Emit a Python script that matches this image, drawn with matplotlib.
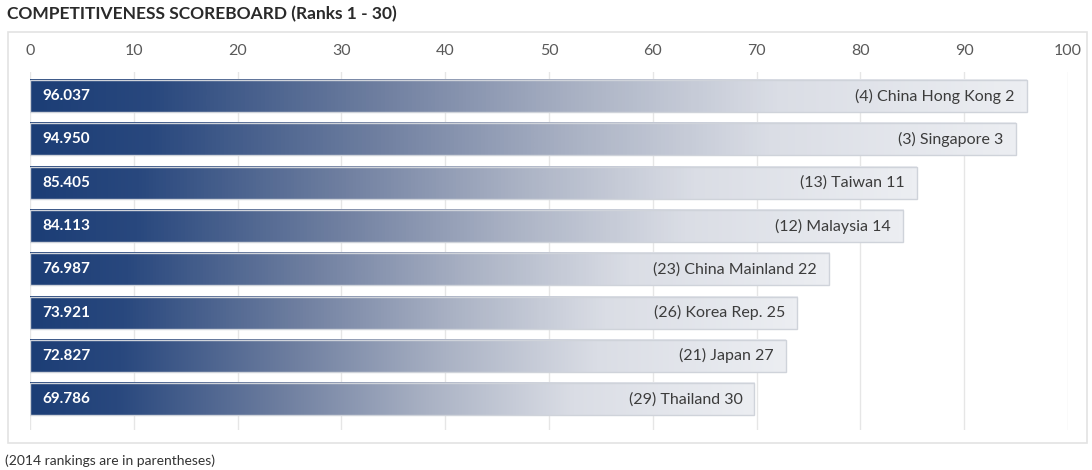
import numpy as np
import matplotlib
matplotlib.use('Agg')
import matplotlib.pyplot as plt
from matplotlib.colors import LinearSegmentedColormap
from matplotlib.patches import Rectangle

# data
countries = ['China Hong Kong', 'Singapore', 'Taiwan', 'Malaysia',
             'China Mainland', 'Korea Rep.', 'Japan', 'Thailand']
scores = [96.037, 94.950, 85.405, 84.113, 76.987, 73.921, 72.827, 69.786]
rank_2015 = [2, 3, 11, 14, 22, 25, 27, 30]
rank_2014 = [4, 3, 13, 12, 23, 26, 21, 29]
ticks = [0, 10, 20, 30, 40, 50, 60, 70, 80, 90, 100]

plt.rcParams['font.family'] = ['Lato', 'DejaVu Sans']

W, H = 1092, 470
fig = plt.figure(figsize=(W / 100, H / 100), dpi=100)

# panel frame and title
fig.patches.append(Rectangle((8 / W, 1 - 443 / H), (1087 - 8) / W, (443 - 32) / H,
                             transform=fig.transFigure, fill=False,
                             edgecolor='#e3e3e3', lw=1.2))
fig.text(7 / W, 1 - 14 / H, 'COMPETITIVENESS SCOREBOARD (Ranks 1 - 30)',
         fontsize=12.5, fontweight='bold', color='#2a2a2a', va='center')
fig.text(5 / W, 1 - 461 / H, '(2014 rankings are in parentheses)',
         fontsize=10, color='#333333', va='center')

ax = fig.add_axes([30 / W, 1 - 430 / H, (1068 - 30) / W, (430 - 72) / H])
ax.set_xlim(0, 100)

cmap = LinearSegmentedColormap.from_list('bar', [
    (0.0, '#1c3e76'), (0.12, '#29487e'), (0.35, '#6f7fa0'),
    (0.55, '#aab2c4'), (0.75, '#dadde5'), (1.0, '#eceef2')])
grad = np.linspace(0, 1, 256).reshape(1, -1)

bh = 0.74
for i, (c, v, r15, r14) in enumerate(zip(countries, scores, rank_2015, rank_2014)):
    ax.imshow(grad, cmap=cmap, extent=[0, v, i + bh / 2, i - bh / 2],
              aspect='auto', zorder=2, interpolation='bilinear')
    ax.add_patch(Rectangle((0, i - bh / 2), v, bh, fill=False,
                           edgecolor='#cfd3da', lw=1, zorder=3))
    ax.text(1.15, i, f'{v:.3f}', color='white', fontweight='bold',
            fontsize=11, va='center', ha='left', zorder=4)
    ax.text(v - 1.15, i, f'({r14}) {c} {r15}', color='#3c3c3c',
            fontsize=11.5, va='center', ha='right', zorder=4)

ax.set_xticks(ticks)
ax.set_xticklabels([str(t) for t in ticks])
ax.xaxis.tick_top()
ax.tick_params(axis='x', length=0, pad=10, labelsize=11.5, labelcolor='#5a5a5a')
ax.set_yticks([])
ax.grid(axis='x', color='#e6e6e6', lw=1, zorder=0)
for s in ax.spines.values():
    s.set_visible(False)
ax.set_ylim(7.71, -0.555)

fig.savefig('out.png', dpi=100)
